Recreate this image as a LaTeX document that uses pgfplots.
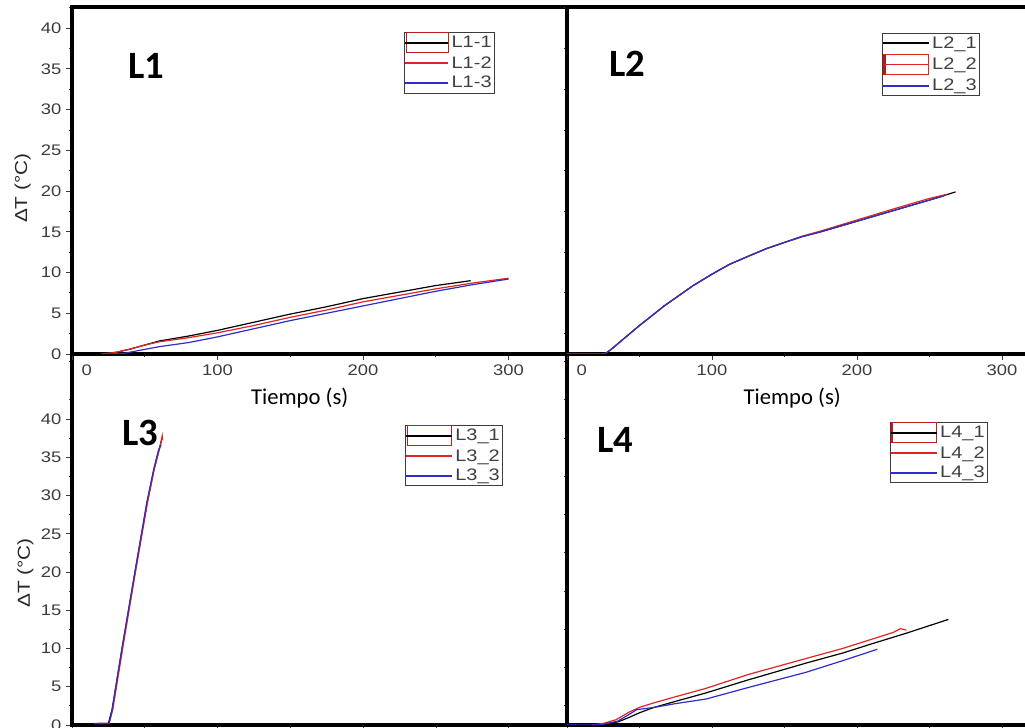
\documentclass[border=0pt]{standalone}
\usepackage{fontspec}
\setmainfont{Liberation Sans}
\newfontfamily\tickfont[FakeStretch=1.2]{Liberation Sans}
\newfontfamily\calib{Carlito}
\usepackage{pgfplots}
\pgfplotsset{compat=1.18}

\definecolor{myred}{RGB}{225,35,35}
\definecolor{myblue}{RGB}{45,45,200}
\definecolor{tickgray}{RGB}{60,60,60}

\pgfplotsset{
 panel/.style={
  scale only axis, anchor=south west, xmin=0, ymin=0,
  axis line style={line width=2.6pt},
  tick align=outside, xtick pos=left, ytick pos=left,
  major tick length=4.5pt, minor tick length=2.5pt,
  every tick/.style={tickgray, line width=0.7pt},
  xtick={0,100,200,300}, minor xtick={50,150,250},
  ytick={0,5,...,40}, minor ytick={2.5,7.5,...,47.5},
  tick label style={font=\tickfont\fontsize{11.5}{13}\selectfont, text=tickgray},
  /pgf/number format/assume math mode=true,
  legend cell align=left,
  legend style={anchor=north west, draw=tickgray, line width=0.6pt, fill=white,
    font=\tickfont\fontsize{12.5}{14}\selectfont, text=black!75,
    inner sep=0pt, row sep=0pt, nodes={inner xsep=2pt, inner ysep=2.3pt}},
  legend image code/.code={\draw[##1, line width=1.3pt] (0pt,0pt) -- (34pt,0pt);},
  every axis plot/.append style={line width=0.9pt},
  xlabel style={font=\calib\fontsize{17}{20}\selectfont, anchor=center},
  ylabel style={font=\tickfont\fontsize{13}{15}\selectfont, anchor=center, text=black!85},
 },
}

\begin{document}
\begin{tikzpicture}
\useasboundingbox (0,0) rectangle (768.75pt,546pt);
\clip (0,0) rectangle (768.75pt,546pt);

% ---------- bottom left : L3 ----------
\begin{axis}[panel, at={(54pt,2.25pt)}, width=371.25pt, height=278.25pt,
  xmax=340, ymax=48.5, xticklabels={},
  ylabel={ΔT (°C)},
  ylabel style={at={(axis description cs:-0.0943,0.41)}},
  legend style={at={(axis description cs:0.673,0.809)}}]
\addplot[draw=black, legend image code/.code={\draw[myred!85!black, line width=0.8pt] (0.5pt,-7.5pt) rectangle (34pt,7.5pt); \draw[black, line width=1.2pt] (0pt,0pt)--(34pt,0pt);}]
 coordinates {(18,0.2)(25,0.2)(27.5,2)(34.4,10)(43.3,20)(51.5,29)(56.4,33.5)(59.8,36)(61.5,37.2)};
\addlegendentry{L3\_1}
\addplot[draw=myred] coordinates {(18,0.2)(25.5,0.2)(28,2)(34.8,10)(43.6,20)(51.8,29)(56.6,33.5)(60,36)(62,37.8)(62.3,37.2)};
\addlegendentry{L3\_2}
\addplot[draw=myblue] coordinates {(15,0.2)(25.4,0.2)(27.6,2)(34.3,10)(43.2,20)(51.3,29)(56.2,33.5)(59.5,36)(61.2,36.6)};
\addlegendentry{L3\_3}
\end{axis}

% ---------- bottom right : L4 ----------
\begin{axis}[panel, at={(425.25pt,2.25pt)}, width=354.75pt, height=278.25pt,
  xmax=326.2, ymax=48.5, xticklabels={}, ymajorticks=false, yminorticks=false,
  legend style={at={(axis description cs:0.683,0.817)}}]
\addplot[draw=black, legend image code/.code={\draw[myred!85!black, line width=0.8pt] (0.5pt,-7.5pt) rectangle (34pt,7.5pt); \draw[black, line width=1.2pt] (0pt,0pt)--(34pt,0pt);}]
 coordinates {(18,0)(25,0.1)(35,0.4)(43,1.0)(50,1.6)(60,2.3)(75,3.1)(96,4.2)(125,5.9)(165,8.1)(190,9.4)(210,10.6)(234,12.0)(263,13.8)};
\addlegendentry{L4\_1}
\addplot[draw=myred] coordinates {(17,0)(25,0.2)(34,0.7)(43,1.7)(50,2.3)(60,2.9)(75,3.7)(96,4.8)(125,6.6)(165,8.7)(190,10.0)(210,11.2)(225,12.1)(230,12.6)(234,12.4)};
\addlegendentry{L4\_2}
\addplot[draw=myblue] coordinates {(0,0)(17,0)(25,0.1)(35,0.5)(43,1.4)(48,2.0)(52,2.1)(60,2.3)(75,2.8)(96,3.4)(125,4.9)(165,6.9)(190,8.4)(214,9.9)};
\addlegendentry{L4\_3}
\end{axis}

% ---------- top left : L1 ----------
\begin{axis}[panel, at={(54pt,280.5pt)}, width=371.25pt, height=260.25pt,
  xmax=340.2, ymax=42.6,
  xticklabels={\hspace*{22pt}0,100,200,300},
  xlabel={Tiempo (s)}, ylabel={ΔT (°C)},
  xlabel style={at={(axis description cs:0.46,-0.127)}},
  ylabel style={at={(axis description cs:-0.0997,0.478)}},
  legend style={at={(axis description cs:0.671,0.928)}}]
\addplot[draw=black, legend image code/.code={\draw[myred!85!black, line width=0.8pt] (0.5pt,-7.5pt) rectangle (32pt,7.5pt); \draw[black, line width=1.2pt] (0pt,0pt)--(32pt,0pt);}]
 coordinates {(20,0)(30,0.2)(40,0.6)(50,1.1)(60,1.6)(80,2.2)(100,2.9)(125,3.9)(150,4.9)(175,5.8)(200,6.8)(225,7.6)(250,8.4)(274,9.0)};
\addlegendentry{L1-1}
\addplot[draw=myred, legend image code/.code={\draw[myred, line width=1.3pt] (0pt,0pt) -- (32pt,0pt);}] coordinates {(20,0)(30,0.2)(40,0.6)(50,1.1)(60,1.5)(80,2.0)(100,2.6)(125,3.5)(150,4.5)(175,5.4)(200,6.4)(225,7.2)(250,8.0)(275,8.7)(300,9.3)};
\addlegendentry{L1-2}
\addplot[draw=myblue, legend image code/.code={\draw[myblue, line width=1.3pt] (0pt,0pt) -- (32pt,0pt);}] coordinates {(20,0)(35,0.05)(45,0.4)(60,0.9)(80,1.4)(100,2.1)(125,3.1)(150,4.1)(175,5.0)(200,5.9)(225,6.8)(250,7.7)(275,8.5)(300,9.2)};
\addlegendentry{L1-3}
\end{axis}

% ---------- top right : L2 ----------
\begin{axis}[panel, at={(425.25pt,280.5pt)}, width=354.75pt, height=260.25pt,
  xmax=326.2, ymax=42.6, ymajorticks=false, yminorticks=false,
  xticklabels={\hspace*{22pt}0,100,200,300},
  xlabel={Tiempo (s)},
  xlabel style={at={(axis description cs:0.476,-0.127)}},
  legend style={at={(axis description cs:0.666,0.925)}}]
\addplot[draw=black] coordinates {(0,0)(26,0)(30,0.5)(35,1.25)(40,2.0)(45,2.75)(50,3.5)(55,4.2)(60,4.9)(67,5.9)(75,6.9)(87,8.4)(100,9.8)(112,11.0)(125,12.0)(137,12.9)(150,13.7)(162,14.4)(175,15.0)(200,16.3)(225,17.6)(250,18.9)(268,19.9)};
\addlegendentry{L2\_1}
\addplot[draw=myred, legend image code/.code={\draw[myred, line width=0.8pt] (0.5pt,-7.5pt) rectangle (34pt,7.5pt); \draw[myred!80!black, line width=2pt] (1pt,-7.5pt)--(1pt,7.5pt); \draw[myred, line width=1.2pt] (0pt,0pt)--(34pt,0pt);}]
 coordinates {(0,0)(26,0)(30,0.5)(35,1.25)(40,2.0)(45,2.75)(50,3.5)(55,4.2)(60,4.9)(67,5.9)(75,6.9)(87,8.4)(100,9.8)(112,11.0)(125,12.0)(137,12.9)(150,13.7)(162,14.45)(175,15.1)(200,16.45)(225,17.8)(250,19.1)(262,19.6)};
\addlegendentry{L2\_2}
\addplot[draw=myblue] coordinates {(0,0)(26,0)(30,0.5)(35,1.25)(40,2.0)(45,2.75)(50,3.5)(55,4.2)(60,4.9)(67,5.9)(75,6.9)(87,8.4)(100,9.8)(112,11.0)(125,12.0)(137,12.9)(150,13.7)(162,14.4)(175,15.0)(200,16.3)(225,17.6)(250,18.9)(260,19.4)};
\addlegendentry{L2\_3}
\end{axis}

% ---------- panel titles ----------
\node[font=\calib\bfseries\fontsize{29}{32}\selectfont] at (109.5pt,496.5pt) {L1};
\node[font=\calib\bfseries\fontsize{29}{32}\selectfont] at (470.25pt,498pt) {L2};
\node[font=\calib\bfseries\fontsize{29}{32}\selectfont] at (105pt,221.25pt) {L3};
\node[font=\calib\bfseries\fontsize{29}{32}\selectfont] at (461.25pt,216pt) {L4};
\end{tikzpicture}
\end{document}
